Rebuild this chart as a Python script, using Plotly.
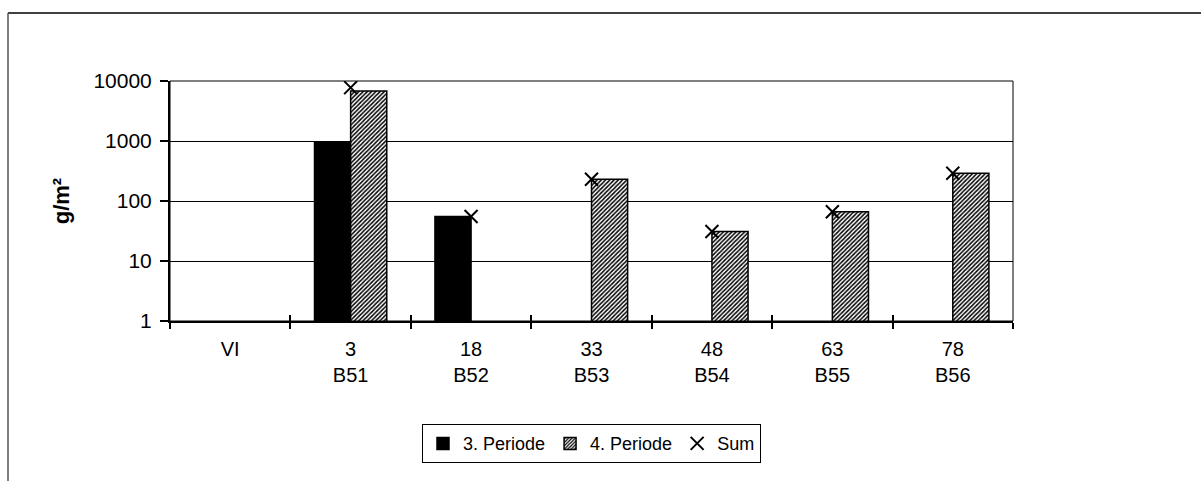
import plotly.graph_objects as go

# ---- data ----
cat_top = ["VI", "3", "18", "33", "48", "63", "78"]
cat_bottom = ["", "B51", "B52", "B53", "B54", "B55", "B56"]
period3 = [None, 950, 55, None, None, None, None]
period4 = [None, 6800, None, 230, 31, 66, 290]
total = [None, 7750, 55, 230, 31, 66, 290]
ytick_vals = [1, 10, 100, 1000, 10000]

categories = [f"{a}<br>{b}" if b else a for a, b in zip(cat_top, cat_bottom)]

FONT = "Liberation Sans, Arial, sans-serif"

fig = go.Figure()
fig.add_trace(go.Bar(
    x=categories, y=period3, name="3. Periode",
    marker=dict(color="black", line=dict(color="black", width=1.5)),
))
fig.add_trace(go.Bar(
    x=categories, y=period4, name="4. Periode",
    marker=dict(color="white", line=dict(color="black", width=1.5),
                pattern=dict(shape="/", size=3, solidity=0.5,
                             fgcolor="black", bgcolor="white", fillmode="replace")),
))
fig.add_trace(go.Scatter(
    x=categories, y=total, name="Sum", mode="markers",
    marker=dict(symbol="x-thin", size=13, line=dict(color="black", width=2), color="black"),
))

fig.update_layout(
    width=1201, height=481,
    margin=dict(l=170, r=188, t=81, b=160),
    paper_bgcolor="white", plot_bgcolor="white",
    barmode="group", bargap=0.4, bargroupgap=0,
    font=dict(family=FONT, size=20, color="black"),
    showlegend=True,
    legend=dict(orientation="h", x=0.5, xanchor="center", y=-0.43, yanchor="top",
                bordercolor="black", borderwidth=1, font=dict(size=18),
                itemwidth=30, tracegroupgap=0),
    xaxis=dict(
        type="category", categoryorder="array", categoryarray=categories,
        showline=True, linecolor="black", linewidth=2,
        ticks="outside", ticklen=6, tickwidth=1.5, tickcolor="black",
        tickson="boundaries", showgrid=False,
        tickfont=dict(size=20), ticklabelstandoff=9,
        range=[-0.5, 6.5],
    ),
    xaxis2=dict(
        overlaying="x", anchor="y", range=[-0.5, 6.5],
        tickvals=[i - 0.5 for i in range(len(categories) + 1)],
        ticks="inside", ticklen=6, tickwidth=1.5, tickcolor="black",
        showticklabels=False, showgrid=False, showline=False, zeroline=False,
    ),
    yaxis=dict(
        type="log", range=[0, 4],
        tickvals=ytick_vals, ticktext=[str(v) for v in ytick_vals],
        showline=True, linecolor="black", linewidth=2,
        ticks="outside", ticklen=8, tickwidth=1.5, tickcolor="black",
        showgrid=True, gridcolor="black", gridwidth=1,
        tickfont=dict(size=21), ticklabelstandoff=4,
        title=dict(text="<b>g/m²</b>", font=dict(size=22), standoff=18),
        zeroline=False,
    ),
    shapes=[
        # plot area thin border
        dict(type="rect", xref="paper", yref="paper", x0=0, x1=1, y0=0, y1=1,
             line=dict(color="black", width=1)),
        # outer chart frame (top and left edges visible)
        dict(type="line", xref="paper", yref="paper",
             x0=(8 - 170) / 843, x1=(1201 - 170) / 843,
             y0=(321 - 13) / 240, y1=(321 - 13) / 240,
             line=dict(color="black", width=1.5)),
        dict(type="line", xref="paper", yref="paper",
             x0=(8 - 170) / 843, x1=(8 - 170) / 843,
             y0=(321 - 13) / 240, y1=(321 - 490) / 240,
             line=dict(color="#555555", width=1.5)),
    ],
)
# invisible trace to activate xaxis2
fig.add_trace(go.Scatter(x=[-0.5, 6.5], y=[None, None], xaxis="x2", yaxis="y",
                         showlegend=False, hoverinfo="skip", mode="markers"))

fig.write_html("out.html")
